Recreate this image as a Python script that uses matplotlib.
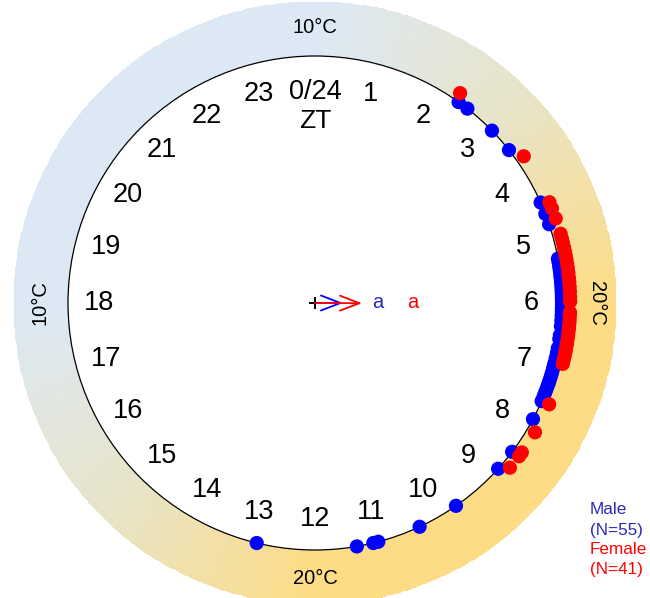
import numpy as np
import matplotlib.pyplot as plt
from matplotlib.colors import LinearSegmentedColormap
from matplotlib.patches import Circle

plt.rcParams['font.family'] = ['Liberation Sans', 'DejaVu Sans']

# individual phases (ZT, h)
male_zt = [2.37, 2.54, 3.05, 3.45, 4.40, 4.59, 4.76,
           5.31, 5.36, 5.42, 5.47, 5.52, 5.57, 5.61, 5.66, 5.70, 5.75,
           5.80, 5.84, 5.89, 5.93, 5.98, 6.03, 6.08, 6.14, 6.20, 6.27,
           6.36, 6.50, 6.56, 6.70, 6.78, 6.86, 6.93, 6.98, 7.03, 7.09,
           7.14, 7.19, 7.24, 7.28, 7.33, 7.39, 7.43, 7.48,
           7.56, 7.87, 8.47, 8.81, 9.68, 10.33, 11.01, 11.09, 11.35, 12.91]
female_zt = [2.31, 3.66, 4.45, 4.55, 4.71,
             4.95, 5.02, 5.09, 5.16, 5.22, 5.28, 5.35, 5.42, 5.48, 5.55,
             5.62, 5.69, 5.76, 5.83, 5.91, 5.98,
             6.14, 6.19, 6.25, 6.30, 6.36, 6.41, 6.47, 6.52, 6.58, 6.63,
             6.69, 6.74, 6.80, 6.86, 6.92,
             7.56, 8.03, 8.39, 8.46, 8.68]

# mean vectors: direction (ZT) and resultant length
male_mean = (6.0, 0.113)
female_mean = (6.02, 0.19)
letters = ['a', 'a']

# temperature cycle in the outer ring
temp_zt = [0, 6, 12, 18, 24]
temp_c = [10, 20, 20, 10, 10]
temp_labels = [(0, '10°C', 0), (6, '20°C', -90), (12, '20°C', 0), (18, '10°C', 90)]

hours = list(range(24))

blue = '#0000ff'
red = '#ff0000'
text_blue = '#2a2ab8'


def xy(zt, r):
    th = np.pi / 2 - np.asarray(zt) * 2 * np.pi / 24
    return r * np.cos(th), r * np.sin(th)


fig = plt.figure(figsize=(6.5, 5.98), dpi=100)
ax = fig.add_axes([0, 0, 1, 1])
ax.set_xlim(-315 / 247, 335 / 247)
ax.set_ylim(-295 / 247, 303 / 247)
ax.set_aspect('equal')
ax.axis('off')

# temperature ring
cmap = LinearSegmentedColormap.from_list('temp', ['#dce9f5', '#e7e4c9', '#fddc85'])
zt_edges = np.linspace(0, 24, 361)
r_edges = np.array([1.0, 1.22])
ZT, R = np.meshgrid(zt_edges, r_edges)
X, Y = xy(ZT, R)
zt_mid = 0.5 * (zt_edges[1:] + zt_edges[:-1])
C = np.interp(zt_mid, temp_zt, temp_c)[None, :]
ax.pcolormesh(X, Y, C, cmap=cmap, vmin=10, vmax=20, shading='flat', zorder=1)

ax.add_patch(Circle((0, 0), 1, facecolor='white', edgecolor='black', lw=0.9, zorder=2))

for zt, lab, rot in temp_labels:
    rr = 1.14 if zt == 6 else 1.115
    x, y = xy(zt, rr)
    ax.text(x, y, lab, fontsize=14.5, ha='center', va='center', rotation=rot, zorder=3)

# hour labels
for h in hours:
    x, y = xy(h, 0.875)
    lab = '0/24' if h == 0 else str(h)
    if h == 0:
        y = 0.855
    ax.text(x, y, lab, fontsize=19.5, ha='center', va='center', zorder=3)
ax.text(0, 0.735, 'ZT', fontsize=19, ha='center', va='center', zorder=3)

# individual points
mx, my = xy(male_zt, 1.0)
fx, fy = xy(female_zt, 1.033)
ax.scatter(mx, my, s=105, color=blue, edgecolors='none', zorder=4)
ax.scatter(fx, fy, s=105, color=red, edgecolors='none', zorder=5)

# mean vectors
ax.plot([0], [0], marker='+', color='black', markersize=9, mew=1.4, zorder=5)
for (mzt, rho), col in [(male_mean, blue), (female_mean, red)]:
    tx, ty = xy(mzt, rho)
    ax.annotate('', xy=(tx, ty), xytext=(0, 0),
                arrowprops=dict(arrowstyle='->,head_length=0.7,head_width=0.27',
                                color=col, lw=1.3, shrinkA=0, shrinkB=0,
                                mutation_scale=20), zorder=6)
ax.text(0.255, 0.0, letters[0], color=text_blue, fontsize=14.5, ha='center', va='center', zorder=6)
ax.text(0.397, 0.0, letters[1], color=red, fontsize=14.5, ha='center', va='center', zorder=6)

# legend
lx = 1.113
ax.text(lx, -0.838, 'Male', color=text_blue, fontsize=12.3, ha='left', va='center')
ax.text(lx, -0.923, '(N=%d)' % len(male_zt), color=text_blue, fontsize=12.3, ha='left', va='center')
ax.text(lx, -0.996, 'Female', color=red, fontsize=12.3, ha='left', va='center')
ax.text(lx, -1.077, '(N=%d)' % len(female_zt), color=red, fontsize=12.3, ha='left', va='center')

fig.savefig('out.png', dpi=100)
